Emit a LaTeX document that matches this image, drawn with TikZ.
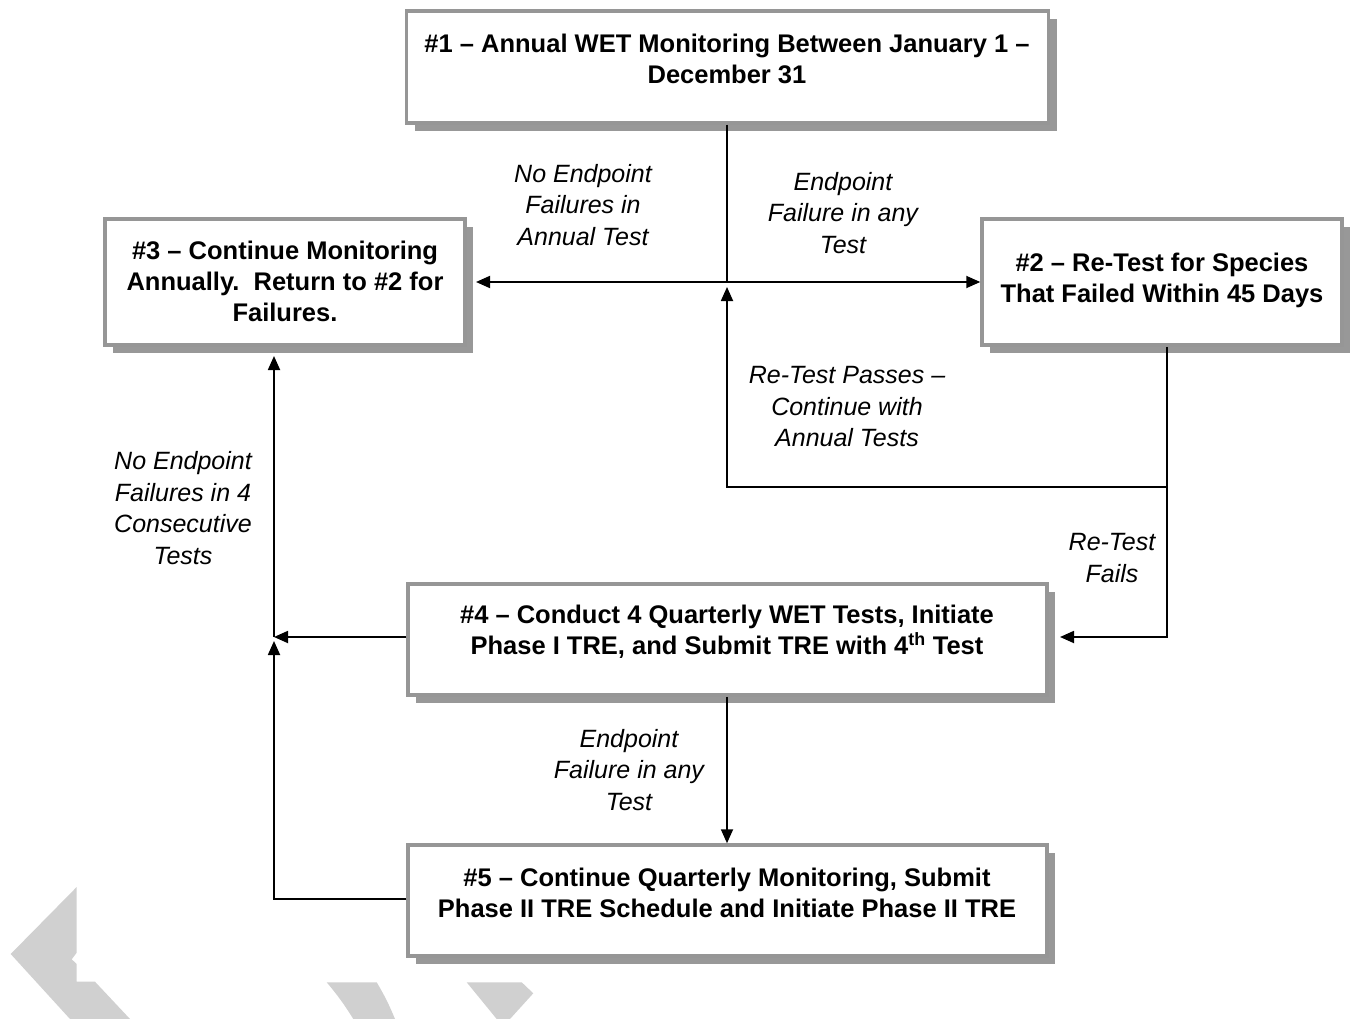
\documentclass[tikz,border=0pt]{standalone}
\usepackage{fontspec}
\setmainfont{Liberation Sans}
\usetikzlibrary{arrows.meta,shadows}
\definecolor{bordergray}{RGB}{150,150,150}
\definecolor{shadowgray}{RGB}{152,152,152}
\definecolor{wmgray}{RGB}{208,208,208}
\begin{document}
\begin{tikzpicture}[x=1pt,y=-1pt,
  box/.style={draw=bordergray, line width=3.5pt, fill=white, inner sep=0pt,
    drop shadow={shadow xshift=8pt, shadow yshift=-8pt, fill=shadowgray, opacity=1}},
  boxtext/.style={font=\fontsize{25.5}{31}\selectfont\bfseries, align=center, inner sep=0pt},
  lbl/.style={font=\fontsize{25}{31.5}\selectfont\itshape, align=center, inner sep=0pt},
  conn/.style={line width=1.8pt, draw=black},
  arr/.style={conn, -{Triangle[length=14pt,width=12pt]}}]
\useasboundingbox (0,0) rectangle (1355,1019);
% watermark fragments
\fill[wmgray] (76.7,887) -- (10.7,954) -- (70,1019) -- (130,1019) -- (95,981.7) -- (76.7,981.7)
  -- (76.7,964) -- (71.7,959.3) -- (76.7,952.7) -- cycle;
\fill[wmgray] (326.7,982.3) -- (376.7,982.3) to[bend left=4] (395,1019) -- (353.3,1019) to[bend right=4] cycle;
\fill[wmgray] (466.7,982.3) -- (521.7,982.3) -- (533.3,993.3) -- (510,1019) -- (496.7,1019) -- cycle;
% boxes
\node[box, minimum width=642, minimum height=112] (b1) at (727.5,67) {};
\node[box, minimum width=360, minimum height=126] (b3) at (285,282) {};
\node[box, minimum width=360, minimum height=126] (b2) at (1162,282) {};
\node[box, minimum width=639, minimum height=111] (b4) at (727.5,639.5) {};
\node[box, minimum width=639, minimum height=111] (b5) at (727.5,900.5) {};
% box texts
\node[boxtext] (t1) at (727,58.5) {\#1 -- Annual WET Monitoring Between January 1 --\\December 31};
\node[boxtext] (t3) at (285,281) {\#3 -- Continue Monitoring\\Annually.\ \ Return to \#2 for\\Failures.};
\node[boxtext] (t2) at (1162,280.5) {\#2 -- Re-Test for Species\\That Failed Within 45 Days};
\node[boxtext] (t4) at (727,631.5) {\#4 -- Conduct 4 Quarterly WET Tests, Initiate\\Phase I TRE, and Submit TRE with 4\textsuperscript{th} Test};
\node[boxtext] (t5) at (727,892.5) {\#5 -- Continue Quarterly Monitoring, Submit\\Phase II TRE Schedule and Initiate Phase II TRE};
% coordinates
\coordinate (j) at (727,282);
\coordinate (tip3) at (476,282);
\coordinate (r) at (1167,487);
\coordinate (m) at (727,487);
\coordinate (up) at (727,287);
\coordinate (r2) at (1167,637);
\coordinate (tip4) at (1060,637);
\coordinate (c4) at (274,637);
\coordinate (tip3b) at (274,356);
\coordinate (c5) at (274,899);
\coordinate (c4b) at (274,641);
% connectors
\draw[conn] (j |- b1.south) -- (j);
\draw[arr] (j) -- (tip3);
\draw[arr] (j) -- (b2.west);
\draw[arr] (r |- b2.south) -- (r) -- (m) -- (up);
\draw[arr] (r) -- (r2) -- (tip4);
\draw[arr] (b4.west |- c4) -- (c4);
\draw[arr] (c4) -- (tip3b);
\draw[arr] (b5.west |- c5) -- (c5) -- (c4b);
\draw[arr] (j |- b4.south) -- (j |- b5.north);
% labels
\node[lbl] (l1) at (583,205) {No Endpoint\\Failures in\\Annual Test};
\node[lbl] (l2) at (843,213) {Endpoint\\Failure in any\\Test};
\node[lbl] (l3) at (847,407) {Re-Test Passes --\\Continue with\\Annual Tests};
\node[lbl] (l4) at (183,508) {No Endpoint\\Failures in 4\\Consecutive\\Tests};
\node[lbl] (l5) at (1112,558) {Re-Test\\Fails};
\node[lbl] (l6) at (629,770) {Endpoint\\Failure in any\\Test};
\end{tikzpicture}
\end{document}
